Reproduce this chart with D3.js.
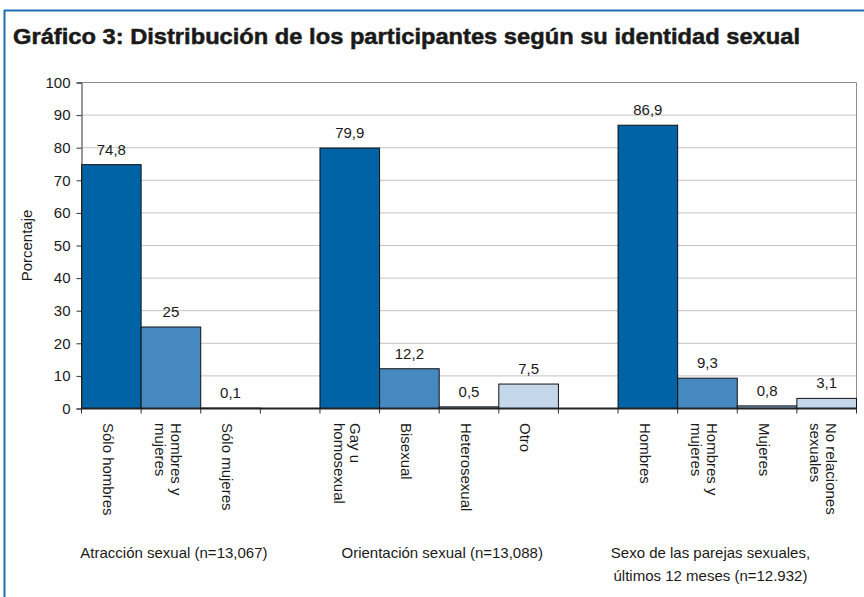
<!DOCTYPE html>
<html>
<head>
<meta charset="utf-8">
<script src="https://cdn.jsdelivr.net/npm/d3@7/dist/d3.min.js"></script>
<style>
  html, body { margin: 0; padding: 0; background: #fff; }
  svg { display: block; font-family: "Liberation Sans", Arial, Helvetica, sans-serif; }
</style>
</head>
<body>
<svg id="chart" width="864" height="597"></svg>
<script>
// ---- Data ----
const titleText = "Gráfico 3: Distribución de los participantes según su identidad sexual";
const yAxisTitle = "Porcentaje";
const categories = [
  ["Sólo hombres"], ["Hombres y", "mujeres"], ["Sólo mujeres"], [],
  ["Gay u", "homosexual"], ["Bisexual"], ["Heterosexual"], ["Otro"], [],
  ["Hombres"], ["Hombres y", "mujeres"], ["Mujeres"], ["No relaciones", "sexuales"]
];
const values = [74.8, 25, 0.1, null, 79.9, 12.2, 0.5, 7.5, null, 86.9, 9.3, 0.8, 3.1];
const colorIndex = [0, 1, 2, null, 0, 1, 2, 3, null, 0, 1, 2, 3];
const palette = ["#0063a6", "#4689c0", "#7d9cc6", "#c5d7ea"];
const yTicks = [0, 10, 20, 30, 40, 50, 60, 70, 80, 90, 100];
const groupLabels = [
  ["Atracción sexual (n=13,067)"],
  ["Orientación sexual (n=13,088)"],
  ["Sexo de las parejas sexuales,", "últimos 12 meses (n=12.932)"]
];
const groupCenterSlot = [1, 5.5, 10];

// ---- Layout ----
const svg = d3.select("#chart");
const plot = { left: 81.5, right: 856.5, top: 82.5, bottom: 408.5 };
const textColor = "#1a1a1a";
const fmt = v => String(v).replace(".", ",");

const x = d3.scaleBand().domain(d3.range(categories.length)).range([plot.left, plot.right]).padding(0);
const y = d3.scaleLinear().domain([0, 100]).range([plot.bottom, plot.top]);

// frame
svg.append("line").attr("x1", 4).attr("x2", 864).attr("y1", 10.5).attr("y2", 10.5)
  .attr("stroke", "#1f6fb4").attr("stroke-width", 2);
svg.append("line").attr("x1", 4.5).attr("x2", 4.5).attr("y1", 10).attr("y2", 597)
  .attr("stroke", "#1f6fb4").attr("stroke-width", 2);

// title
svg.append("text").attr("x", 13).attr("y", 44)
  .attr("font-size", 22).attr("font-weight", "bold").attr("fill", textColor)
  .attr("stroke", textColor).attr("stroke-width", 0.5)
  .attr("textLength", 787).attr("lengthAdjust", "spacingAndGlyphs")
  .text(titleText);

// gridlines
svg.append("g").selectAll("line").data(yTicks.filter(t => t > 0)).join("line")
  .attr("x1", plot.left).attr("x2", plot.right)
  .attr("y1", d => y(d)).attr("y2", d => y(d))
  .attr("stroke", d => d === 100 ? "#8c8c8c" : "#c4c4c4").attr("stroke-width", 1);
// right border
svg.append("line").attr("x1", plot.right).attr("x2", plot.right).attr("y1", plot.top).attr("y2", plot.bottom)
  .attr("stroke", "#8c8c8c");

// bars
const barData = values.map((v, i) => ({ v, i })).filter(d => d.v !== null);
svg.append("g").selectAll("rect").data(barData).join("rect")
  .attr("x", d => x(d.i)).attr("width", x.bandwidth())
  .attr("y", d => y(d.v)).attr("height", d => y(0) - y(d.v))
  .attr("fill", d => palette[colorIndex[d.i]])
  .attr("stroke", "#111").attr("stroke-width", 1);

// value labels
svg.append("g").selectAll("text").data(barData).join("text")
  .attr("x", d => x(d.i) + x.bandwidth() / 2)
  .attr("y", d => y(d.v) - 10)
  .attr("text-anchor", "middle").attr("font-size", 15).attr("fill", textColor)
  .text(d => fmt(d.v));

// y axis
const yAxis = d3.axisLeft(y).tickValues(yTicks).tickSize(5).tickPadding(6);
const yg = svg.append("g").attr("transform", `translate(${plot.left},0)`).call(yAxis);
yg.select(".domain").attr("stroke", "#333");
yg.selectAll(".tick line").attr("stroke", "#333");
yg.selectAll(".tick text").attr("font-size", 15).attr("fill", textColor)
  .attr("font-family", "'Liberation Sans', Arial, sans-serif");

// x axis: ticks at slot boundaries
const bounds = d3.range(categories.length + 1).map(i => i === categories.length ? plot.right : x(i));
svg.append("g").selectAll("line").data(bounds).join("line")
  .attr("x1", d => d).attr("x2", d => d).attr("y1", plot.bottom).attr("y2", plot.bottom + 5)
  .attr("stroke", "#333");
svg.append("line").attr("x1", plot.left).attr("x2", plot.right)
  .attr("y1", plot.bottom).attr("y2", plot.bottom).attr("stroke", "#222").attr("stroke-width", 2);

// category labels rotated
const lh = 16;
categories.forEach((lines, i) => {
  if (!lines.length) return;
  const cx = x(i) + x.bandwidth() / 2 - 3;
  const t = svg.append("text")
    .attr("transform", `translate(${cx},423) rotate(90)`)
    .attr("font-size", 15).attr("fill", textColor);
  lines.forEach((ln, k) => {
    t.append("tspan").attr("x", 0)
      .attr("y", (k - (lines.length - 1) / 2) * lh)
      .attr("dy", "0.35em").text(ln);
  });
});

// y axis title
svg.append("text").attr("transform", `translate(27,${(plot.top + plot.bottom) / 2}) rotate(-90)`)
  .attr("text-anchor", "middle").attr("dy", "0.35em").attr("font-size", 15).attr("fill", textColor)
  .text(yAxisTitle);

// group labels
groupLabels.forEach((lines, g) => {
  const cx = x(0) + (groupCenterSlot[g] + 0.5) * x.bandwidth() + 3;
  const t = svg.append("text").attr("text-anchor", "middle").attr("font-size", 15).attr("fill", textColor);
  lines.forEach((ln, k) => {
    t.append("tspan").attr("x", cx).attr("y", 558 + k * 23).text(ln);
  });
});
</script>
</body>
</html>
